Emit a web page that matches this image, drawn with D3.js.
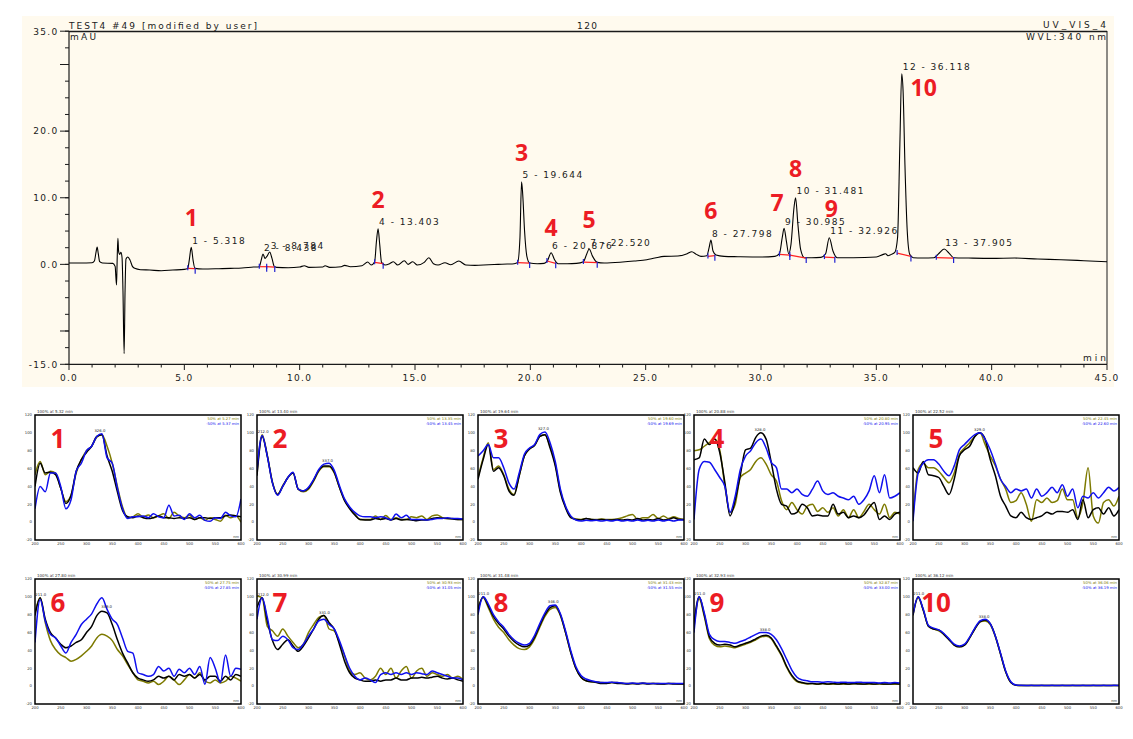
<!DOCTYPE html>
<html lang="en">
<head>
<meta charset="UTF-8">
<title>TEST4 #49 chromatogram</title>
<script src="https://cdn.jsdelivr.net/npm/d3@7"></script>
<style>
body{margin:0;background:#fff}
svg{display:block}
text{font-family:"DejaVu Sans",sans-serif}
.red{font-family:"Open Sans",sans-serif;font-weight:700;fill:#ec1c24}
</style>
</head>
<body>
<div id="chart"></div>
<script>
// ---- chromatogram trace (min / mAU) ----
chromTime=[0,0.5,1.0,1.1,1.17,1.22,1.27,1.33,1.45,1.9,2.0,2.06,2.09,2.12,2.15,2.2,2.25,2.3,2.34,2.39,2.43,2.47,2.55,2.65,2.75,2.85,3.1,3.5,4.0,4.5,5.0,
 5.15,5.22,5.3,5.38,5.46,5.8,6.5,7.0,7.5,8.0,8.25,8.33,8.41,8.5,8.58,8.7,8.8,8.9,9.0,9.5,10.0,10.2,10.4,11.0,11.1,11.3,11.8,11.95,12.2,12.7,12.95,13.1,
 13.25,13.33,13.4,13.47,13.55,13.7,13.9,14.06,14.25,14.54,14.7,14.9,15.1,15.4,15.6,15.8,16.0,16.3,16.55,16.9,17.2,17.6,18.2,18.6,19.0,19.3,
 19.45,19.55,19.62,19.67,19.75,19.85,19.97,20.3,20.6,20.75,20.9,21.05,21.2,21.6,22.0,22.3,22.45,22.55,22.7,22.9,23.2,24.0,24.5,25.05,25.4,25.8,
 26.4,26.8,27.0,27.2,27.4,27.65,27.75,27.83,27.92,28.05,28.4,29.0,30.0,30.6,30.8,30.92,31.0,31.1,31.2,31.3,31.43,31.5,31.6,31.72,31.88,32.2,32.6,
 32.8,32.96,33.12,33.3,34.0,35.0,35.3,35.4,35.5,35.65,35.8,35.92,36.02,36.1,36.16,36.24,36.34,36.45,36.6,37.0,37.5,37.7,37.94,38.15,38.35,
 39.0,40.0,41.0,42.0,43.0,44.0,45.0]
chromValue=[0.2,0.2,0.25,0.5,1.8,2.6,1.6,0.4,0.2,0.15,-0.3,-3.1,1.0,3.9,2.0,1.5,1.8,1.0,-4,-13.4,-4,0.8,1.1,0.6,-0.3,-0.6,-0.8,-0.85,-0.95,-0.85,-0.75,
 -0.6,0.8,2.55,0.6,-0.6,-0.7,-0.65,-0.6,-0.55,-0.4,-0.35,0.6,1.55,0.9,1.2,1.85,0.9,-0.3,-0.45,-0.5,-0.4,-0.2,-0.45,-0.4,-0.2,-0.45,-0.35,-0.15,-0.35,-0.2,0.35,-0.1,
 0.4,3.5,5.35,3.0,0.3,-0.1,0.1,0.4,-0.1,0.55,0.0,0.4,-0.1,0.3,1.0,0.1,-0.1,0.25,-0.05,0.5,-0.1,-0.15,-0.05,0.0,0.05,0.1,
 0.3,4.0,12.4,10.5,5,1.2,0.2,0.1,0.15,0.6,1.75,0.7,0.1,0.1,0.15,0.4,1.6,2.3,1.2,0.3,0.2,0.35,0.5,0.7,0.95,1.2,
 1.25,1.6,1.9,1.5,1.2,1.3,2.5,3.65,2.0,1.4,1.2,1.15,1.1,1.2,1.6,4.0,5.4,3.5,1.6,3.0,8.5,10.0,6.0,2.2,1.0,1.0,1.05,
 1.6,4.0,2.0,1.0,1.0,1.1,1.5,1.6,1.3,1.5,1.8,4,18,28.6,26,15,5,1.5,1.0,0.95,1.0,1.6,2.3,1.7,1.0,
 0.95,0.9,0.95,0.8,0.7,0.55,0.4]

// ---- integrated peaks ----
peakNo=[1,2,3,4,5,6,7,8,9,10,11,12,13]
peakRT=['5.318','8.438','8.784','13.403','19.644','20.876','22.520','27.798','30.985','31.481','32.926','36.118','37.905']
peakStart=[5.15,8.25,8.57,13.25,19.45,20.72,22.3,27.7,30.8,31.25,32.75,35.9,37.6]
peakEnd=[5.47,8.57,8.92,13.62,19.97,21.1,22.9,28.0,31.25,31.96,33.2,36.5,38.35]
peakStartValue=[-0.6,-0.35,-0.35,0.3,0.25,0.5,0.35,1.2,1.5,1.4,1.1,1.7,1.0]
peakEndValue=[-0.65,-0.35,-0.4,0.1,0.2,0.15,0.25,1.3,1.4,0.95,1.0,1.2,0.95]

// red annotation numbers -> peak number
markText=['1','2','3','4','5','6','7','8','9','10']
markPeak=[1,4,5,6,7,8,9,10,11,12]

// ---- UV spectra (% vs nm) ----
wavelength=[200,210,220,230,240,250,260,270,280,290,300,310,320,330,340,350,360,370,380,390,400,
 410,420,430,440,450,460,470,480,490,500,510,520,530,540,550,560,570,580,590,600]

spec1Black=[40,66,55,56,53,38,21,30,57,70,78,85,96,98,74,57,34,13,6,5,7,5,4,5,7,5,5,4,5,4,5,3,5,5,4,5,5,7,8,7,6]
spec1Olive=[53,68,53,57,55,38,23,30,55,70,80,85,95,98,85,66,40,17,5,6,9.5,6,8,5,7,9.5,4,11,7,5,7.6,3,5,2,5,3,1,7.6,5,7,0]
spec1Blue=[15,40,34,55,55,40,15,25,57,66,80,85,96,99,72,66,38,15,4,6,6,7,5,9.5,6,5,19,7,7.6,3,9.5,5,7.6,2,1,5,4,11,7,6,26]

spec2Black=[52,96,74,44,31,40,50,55,37,35,38,47,58,63,63,56,39,24,15,8,3,2.5,2.5,4,3,4,2.5,4,2.5,3,2.5,1.5,2.5,2.5,4,5,4.5,4,3.5,3,3]
spec2Olive=[55,98,75,45,31,41,50,55,37,34,37,46,57,62,62,55,39,25,16,9,3,3,3,7,3,7.5,3,5,3,3,6,5,7,3,7,8,5,4,4,3,3]
spec2Blue=[59,97,74,44,30,40,50,56,37,35,39,48,59,65,66,58,41,26,17,11,7,6,6,5,6,5,2.5,9,5,7.6,3,3,3,2.5,3,4,4,5,4,4,3.5]

spec3Black=[48,70,87,57,61,52,35,30,52,74,82,86,96,98,83,63,33,16,5,3,2.5,4,3,2.5,3,2.5,2.5,3,2.5,3,2.5,4,2.5,3,2.5,4,2.5,3,5,3,3]
spec3Olive=[50,72,89,59,63,53,37,31,52,74,82,86,96,98,85,65,35,17,6,3.5,3,4,3,3,3.5,3,3,3.5,5,7,8.7,3,5,5,8.7,4,7,4,6,4,3]
spec3Blue=[74,80,87,72,72,61,44,37,55,76,83,87,98,101,89,68,37,18,7,2.4,1.3,2,1.5,2,1.3,2,1.3,2.4,1.3,2,1.3,2.4,1.3,2,1.3,2.4,1.3,2.4,1.3,2.4,2.4]

spec4Black=[70,72,93,87,93,78,44,7,25,53,81,83,95,100,93,67,37,20,18,9,11,20,16,7,8,7,7,20,9,11,5,7,5,8,16,22,3,7,3,9,11]
spec4Olive=[80,81,85,89,93,81,40,11,20,50,55,59,68,72,65,53,46,24,14,22,14,9,18,20,12,16,11,16,7,14,5,14,5,12,20,14,9,20,5,11,9]
spec4Blue=[3,59,68,67,59,50,40,11,29,59,74,80,89,93,83,67,61,37,37,33,37,31,29,37,46,35,31,33,29,27,25,29,20,25,35,52,33,53,27,29,33]

spec5Black=[61,55,68,53,52,50,40,31,48,74,81,85,96,100,93,70,52,29,18,7,5,11,5,3,5,7,11,9,12,12,11,14,3,25,5,14,16,9,16,7,14]
spec5Olive=[5,59,66,61,61,57,50,44,55,76,83,89,96,100,87,74,63,48,37,22,24,33,20,1,25,22,27,22,24,37,25,25,5,22,61,7,-1,22,25,18,29]
spec5Blue=[1,55,66,70,70,65,57,52,63,81,87,93,98,100,93,81,65,48,40,33,37,35,37,27,37,29,33,39,33,42,29,37,16,29,27,33,27,33,39,35,39]

spec6Black=[79,99,75,60,54,47,43,45,49,52,60,67,79,84,82,69,52,37,26,15,9,7,5.5,7,11,9,11,7,13,11,13,9,13,7,11,11,5.5,11,7,13,11]
spec6Olive=[82,99,71,51,41,35,32,28,30,34,39,45,54,58,56,51,41,34,24,15,7,5.5,3.6,5.5,1.8,5.5,11,7,1.8,7,13,9,15,5.5,3.6,7,3.6,5.5,11,9,5.5]
spec6Blue=[49,97,73,58,54,45,37,49,58,69,75,81,92,99,86,75,69,54,39,37,15,13,11,13,22,17,20,11,19,15,20,13,22,2,32,20,4,35,11,20,19]

spec7Black=[88,99,73,51,41,47,52,45,39,45,54,64,75,79,71,64,47,28,15,9,7,5.5,5.5,7,5.5,7,7,9,7,7,9,9,10,9,10,11,9,8,9,7,5.5]
spec7Olive=[101,99,67,62,56,64,56,49,43,47,60,69,77,79,64,62,49,34,17,13,15,9,7,11,20,13,20,9,17,22,9,17,20,11,15,13,11,13,9,11,7]
spec7Blue=[75,99,77,52,51,56,52,43,41,47,56,64,73,75,69,64,51,35,20,11,7,9,7,4,13,15,13,15,13,15,13,15,14,13,17,15,13,11,9,9,7]

spec8Black=[85,100,90,78,70,64,56,50,46,44,46,55,68,80,88,90,80,60,38,20,10,6,5,4,3,3,4,3,3,2.5,3,2.5,3,2.5,3,2.5,2.5,3,2.5,2.5,2.5]
spec8Olive=[88,99,88,75,66,60,52,46,42,41,44,53,66,78,86,88,79,60,38,20,10,6,5,5,4,3.5,4,4,3,3,3,3,3.5,3,3,3,2.5,3,3,2.5,2.5]
spec8Blue=[80,100,92,80,72,66,58,52,48,46,48,57,70,82,90,91,81,62,40,22,12,8,6,5,4,4,4.5,4,3.5,3,3.5,3,3.5,3,3,3,3,3,3,3,3]

spec9Black=[70,100,80,55,48,46,47,46,44,46,48,50,53,56,57,54,45,35,22,12,6,4,3,3,2.5,3,2.5,3,2.5,3,2.5,3,2.5,2.5,3,2.5,3,2.5,2.5,3,2.5]
spec9Olive=[66,98,78,53,46,44,45,44,43,45,47,49,52,55,56,53,44,34,21,11,5,3.5,2.5,3,2,3,2,2.5,2,2.5,2,2.5,3,2,2.5,2,2.5,2,2.5,2,2]
spec9Blue=[60,100,82,58,52,50,50,49,48,50,52,55,58,60,60,58,52,42,30,18,10,7,6,5,5,4.5,5,4.5,4,4.5,4,4,4.5,4,4,4,3.5,4,3.5,4,3.5]

spec10Black=[80,100,85,67,64,63,58,52,46,44,46,54,64,72,74,70,56,36,16,4,1,0.8,0.6,0.8,0.6,0.8,0.6,0.8,0.6,0.8,0.6,0.8,0.6,0.8,0.6,0.8,0.6,0.8,0.6,0.8,0.6]
spec10Olive=[79,99,85,67,64,62,58,52,46,44,46,54,64,72,73,69,55,36,16,4,1,0.7,0.6,0.7,0.6,0.7,0.6,0.7,0.6,0.7,0.6,0.7,0.6,0.7,0.6,0.7,0.6,0.7,0.6,0.7,0.6]
spec10Blue=[80,100,86,68,65,63,59,53,47,45,47,55,65,73,75,70,56,37,17,5,1.2,0.9,0.8,0.9,0.8,0.9,0.8,0.9,0.8,0.9,0.8,0.9,0.8,0.9,0.8,0.9,0.8,0.9,0.8,0.9,0.8]

specTitle=['100% at 5.32 min','100% at 13.40 min','100% at 19.64 min','100% at 20.88 min','100% at 22.52 min',
 '100% at 27.80 min','100% at 30.99 min','100% at 31.48 min','100% at 32.93 min','100% at 36.12 min']
specUp=['50% at 5.27 min','50% at 13.35 min','50% at 19.60 min','50% at 20.80 min','50% at 22.45 min',
 '50% at 27.75 min','50% at 30.93 min','50% at 31.43 min','50% at 32.87 min','50% at 36.06 min']
specDown=['-50% at 5.37 min','-50% at 13.45 min','-50% at 19.69 min','-50% at 20.95 min','-50% at 22.60 min',
 '-50% at 27.85 min','-50% at 31.05 min','-50% at 31.55 min','-50% at 33.00 min','-50% at 36.19 min']
specMax=[[326],[212,337],[327],[328],[329],[211,339],[212,331],[211,346],[211,338],[211,338]]
specYTicks=[-20,0,20,40,60,80,100,120]
specXTicks=[200,250,300,350,400,450,500,550,600]

var W=1133,H=739
var svg=d3.select('#chart').append('svg').attr('width',W).attr('height',H)

// ================= main chromatogram =================
var x=d3.scaleLinear().domain([0,45]).range([69,1107])
var y=d3.scaleLinear().domain([-15,35]).range([364.3,31.2])
var ink='#1a1a1a'

svg.append('rect').attr('x',22).attr('y',16).attr('width',1092).attr('height',371).attr('fill','#fffaee')

// frame
svg.append('line').attr('x1',69).attr('x2',1107).attr('y1',31.5).attr('y2',31.5).attr('stroke',ink).attr('stroke-width',1.6)
svg.append('line').attr('x1',1107).attr('x2',1107).attr('y1',31).attr('y2',364.3).attr('stroke',ink).attr('stroke-width',1)
svg.append('line').attr('x1',69).attr('x2',69).attr('y1',31).attr('y2',364.8).attr('stroke',ink).attr('stroke-width',1.2)
svg.append('line').attr('x1',69).attr('x2',1107).attr('y1',364.3).attr('y2',364.3).attr('stroke',ink).attr('stroke-width',1.2)

// y ticks
var yMinor=d3.range(-15,35.1,2.5)
svg.selectAll('.ymin').data(yMinor).enter().append('line')
	.attr('x1',65).attr('x2',69).attr('y1',function(d){return y(d)}).attr('y2',function(d){return y(d)})
	.attr('stroke',ink)
svg.selectAll('.ymaj').data([35,30,20,10,0,-10,-15]).enter().append('line')
	.attr('x1',60).attr('x2',69).attr('y1',function(d){return y(d)}).attr('y2',function(d){return y(d)})
	.attr('stroke',ink)
svg.selectAll('.ylab').data([35,20,10,0,-15]).enter().append('text')
	.attr('x',58.5).attr('y',function(d){return y(d)+3.3})
	.attr('text-anchor','end').attr('font-size',9).attr('letter-spacing',1.3).attr('fill',ink)
	.text(function(d){return d.toFixed(1)})

// x ticks
svg.selectAll('.xmin').data(d3.range(0,46,1)).enter().append('line')
	.attr('x1',function(d){return x(d)}).attr('x2',function(d){return x(d)})
	.attr('y1',364.3).attr('y2',function(d){return d%5==0?370:367.5})
	.attr('stroke',ink)
svg.selectAll('.xlab').data(d3.range(0,46,5)).enter().append('text')
	.attr('x',function(d){return x(d)}).attr('y',380.5)
	.attr('text-anchor','middle').attr('font-size',9).attr('letter-spacing',1.3).attr('fill',ink)
	.text(function(d){return d.toFixed(1)})

// header texts
function txt(s,xx,yy,anchor,len){
	var t=svg.append('text').attr('x',xx).attr('y',yy).attr('text-anchor',anchor)
		.attr('font-size',9).attr('fill',ink).text(s)
	if(len) t.attr('textLength',len).attr('lengthAdjust','spacing')
	return t
}
txt('TEST4 #49 [modified by user]',69,28.5,'start',188)
txt('mAU',70,40,'start',26)
txt('120',587,28.5,'middle',20)
txt('UV_VIS_4',1106,27.5,'end',63)
txt('WVL:340 nm',1106,40,'end',80)
txt('min',1106,361,'end',23)

// trace
var trace=chromTime.map(function(t,i){return [t,chromValue[i]]})
var line=d3.line().x(function(d){return x(d[0])}).y(function(d){return y(d[1])}).curve(d3.curveMonotoneX)
svg.append('path').datum(trace).attr('d',line).attr('fill','none').attr('stroke','#000').attr('stroke-width',1.1)

// peaks: baselines, delimiters, labels
var peaks=peakNo.map(function(n,i){
	var pts=trace.filter(function(d){return d[0]>=peakStart[i]&&d[0]<=peakEnd[i]})
	var apex=pts.reduce(function(a,b){return b[1]>a[1]?b:a})
	return {no:n,rt:peakRT[i],s:peakStart[i],e:peakEnd[i],sv:peakStartValue[i],ev:peakEndValue[i],at:apex[0],av:apex[1]}
})
var pg=svg.append('g')
peaks.forEach(function(p){
	pg.append('line').attr('x1',x(p.s)).attr('x2',x(p.e)).attr('y1',y(p.sv)).attr('y2',y(p.ev))
		.attr('stroke','#ff2020').attr('stroke-width',1.2)
	pg.append('line').attr('x1',x(p.s)).attr('x2',x(p.s)).attr('y1',y(p.sv)-3).attr('y2',y(p.sv)+2)
		.attr('stroke','#2020d0').attr('stroke-width',1.2)
	pg.append('line').attr('x1',x(p.e)).attr('x2',x(p.e)).attr('y1',y(p.ev)-1).attr('y2',y(p.ev)+5)
		.attr('stroke','#2020d0').attr('stroke-width',1.2)
	pg.append('text').attr('x',x(p.at)+1).attr('y',y(p.av)-3.5)
		.attr('font-size',9).attr('letter-spacing',1.5).attr('fill',ink)
		.text(p.no+' - '+p.rt)
})

// red annotation numbers
var markShift={'4':[0,4],'7':[-7,4],'9':[2,0],'10':[22,43]}
markText.forEach(function(m,i){
	var p=peaks[markPeak[i]-1]
	var off=markShift[m]||[0,0]
	svg.append('text').attr('class','red').attr('font-size',23).attr('text-anchor','middle')
		.attr('x',x(p.at)+off[0]).attr('y',y(p.av)-21+off[1]).text(m)
})

// ================= UV spectra panels =================
var specs=[
	[spec1Black,spec1Olive,spec1Blue],[spec2Black,spec2Olive,spec2Blue],[spec3Black,spec3Olive,spec3Blue],
	[spec4Black,spec4Olive,spec4Blue],[spec5Black,spec5Olive,spec5Blue],[spec6Black,spec6Olive,spec6Blue],
	[spec7Black,spec7Olive,spec7Blue],[spec8Black,spec8Olive,spec8Blue],[spec9Black,spec9Olive,spec9Blue],
	[spec10Black,spec10Olive,spec10Blue]
]
var colLeft=[35,257,478,694,913],rowTop=[415,579],pw=206,ph=125
var olive='#7d7a00',blue='#1010ee'

specs.forEach(function(sp,k){
	var left=colLeft[k%5],top=rowTop[Math.floor(k/5)]
	var sx=d3.scaleLinear().domain([200,600]).range([left,left+pw])
	var sy=d3.scaleLinear().domain([-20,120]).range([top+ph,top])
	var g=svg.append('g')
	g.append('rect').attr('x',left).attr('y',top).attr('width',pw).attr('height',ph).attr('fill','#fff')
	var cid='clip'+k
	g.append('clipPath').attr('id',cid).append('rect').attr('x',left).attr('y',top).attr('width',pw).attr('height',ph)
	var sl=d3.line().x(function(d,i){return sx(wavelength[i])}).y(function(d){return sy(d)}).curve(d3.curveMonotoneX)
	var order=[[1,olive],[0,'#000'],[2,blue]]
	order.forEach(function(o){
		g.append('path').datum(sp[o[0]]).attr('d',sl).attr('clip-path','url(#'+cid+')')
			.attr('fill','none').attr('stroke',o[1]).attr('stroke-width',1.5)
	})
	g.append('rect').attr('x',left).attr('y',top).attr('width',pw).attr('height',ph)
		.attr('fill','none').attr('stroke','#000').attr('stroke-width',1.5)
	// tiny labels
	g.append('text').attr('x',left+2).attr('y',top-2).attr('font-size',4).attr('fill','#333').text(specTitle[k])
	g.append('text').attr('x',left+pw-2).attr('y',top+5).attr('text-anchor','end').attr('font-size',3.8).attr('fill',olive).text(specUp[k])
	g.append('text').attr('x',left+pw-2).attr('y',top+10).attr('text-anchor','end').attr('font-size',3.8).attr('fill',blue).text(specDown[k])
	g.append('text').attr('x',left+pw-2).attr('y',top+ph-2).attr('text-anchor','end').attr('font-size',3.5).attr('fill','#333').text('nm')
	g.selectAll('.sy').data(specYTicks).enter().append('text')
		.attr('x',left-3).attr('y',function(d){return sy(d)+1.3}).attr('text-anchor','end')
		.attr('font-size',3.8).attr('fill','#333').text(function(d){return d})
	g.selectAll('.sx').data(specXTicks).enter().append('text')
		.attr('x',function(d){return sx(d)}).attr('y',top+ph+5).attr('text-anchor','middle')
		.attr('font-size',3.8).attr('fill','#333').text(function(d){return d})
	specMax[k].forEach(function(wl){
		var i=Math.round((wl-200)/10)
		var v=d3.max(sp,function(s){return s[i]})
		g.append('text').attr('x',sx(wl)).attr('y',sy(v)-1.5).attr('text-anchor','middle')
			.attr('font-size',3.8).attr('fill','#222').text(wl.toFixed(1))
	})
	// red number
	svg.append('text').attr('class','red').attr('font-size',26).attr('text-anchor','middle')
		.attr('x',left+23).attr('y',top+33).text(String(k+1))
})
</script>
</body>
</html>
